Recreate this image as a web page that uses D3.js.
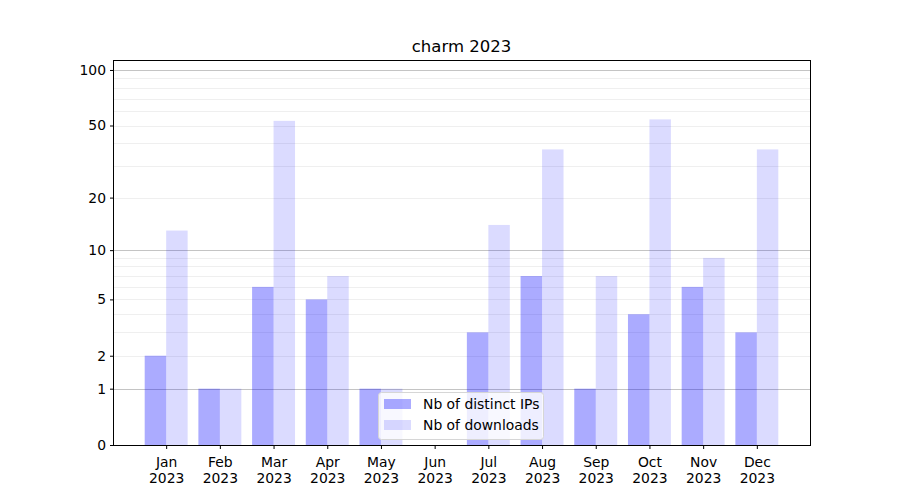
<!DOCTYPE html>
<html><head><meta charset="utf-8">
<script src="https://cdn.jsdelivr.net/npm/d3@7"></script>
<style>body{margin:0;background:#fff}svg{display:block}text{font-family:"DejaVu Sans",sans-serif}</style>
</head><body><svg id="c" width="900" height="500"></svg>
<script>
const months = ["Jan","Feb","Mar","Apr","May","Jun","Jul","Aug","Sep","Oct","Nov","Dec"];
const yearLabel = "2023";
const distinctIPs = [2,1,6,5,1,0,3,7,1,4,6,3];
const downloads = [13,1,53,7,1,0,14,37,7,54,9,37];
const yTicks = [0,1,2,5,10,20,50,100];
const minorGrid = [2,3,4,5,6,7,8,9,20,30,40,50,60,70,80,90];
const majorGrid = [1,10,100];
const seriesNames = ["Nb of distinct IPs","Nb of downloads"];

const svg = d3.select("#c");
const L=113, R=810, T=60, B=445;
const x = d3.scaleLinear().domain([-0.99, 11.99]).range([L, R]);
const y = d3.scaleSymlog().constant(1).domain([0, 113.2]).range([B, T]);
const bw = 0.4;

svg.append("text").attr("x",(L+R)/2).attr("y",52).attr("text-anchor","middle")
  .attr("font-size",16.5).text("charm " + yearLabel);

const g = svg.append("g");
g.selectAll(".mg").data(minorGrid).join("line")
  .attr("x1",L).attr("x2",R).attr("y1",d=>Math.round(y(d))+0.5).attr("y2",d=>Math.round(y(d))+0.5)
  .attr("stroke","#ebebeb").attr("stroke-width",0.8);
g.selectAll(".Mg").data(majorGrid).join("line")
  .attr("x1",L).attr("x2",R).attr("y1",d=>Math.round(y(d))+0.5).attr("y2",d=>Math.round(y(d))+0.5)
  .attr("stroke","#c4c4c4").attr("stroke-width",1);

g.selectAll(".b1").data(distinctIPs).join("rect")
  .attr("x",(d,i)=>x(i-bw)).attr("width",x(bw)-x(0))
  .attr("y",d=>y(d)).attr("height",d=>B-y(d))
  .attr("fill","#0000ff").attr("fill-opacity",0.33);
g.selectAll(".b2").data(downloads).join("rect")
  .attr("x",(d,i)=>x(i)).attr("width",x(bw)-x(0))
  .attr("y",d=>y(d)).attr("height",d=>B-y(d))
  .attr("fill","#0000ff").attr("fill-opacity",0.14);

// axes
const yAxis = d3.axisLeft(y).tickValues(yTicks).tickFormat(d3.format("d")).tickSize(3.5).tickPadding(4);
const ya = svg.append("g").attr("transform",`translate(${L+0.5},0)`).call(yAxis);
ya.select(".domain").remove();
ya.selectAll("text").attr("font-size",13.9).attr("fill","#000").attr("font-family","DejaVu Sans");
ya.selectAll("line").attr("stroke","#000");

const xAxis = d3.axisBottom(x).tickValues(d3.range(months.length)).tickFormat(()=>"").tickSize(3.5);
const xa = svg.append("g").attr("transform",`translate(0,${B+0.5})`).call(xAxis);
xa.select(".domain").remove();
xa.selectAll("line").attr("stroke","#000");
xa.selectAll(".tick").each(function(d){
  const t = d3.select(this).append("text").attr("fill","#000").attr("font-size",13.9).attr("text-anchor","middle");
  t.append("tspan").attr("x",0).attr("y",21).text(months[d]);
  t.append("tspan").attr("x",0).attr("y",37).text(yearLabel);
});

svg.append("rect").attr("x",L+0.5).attr("y",T+0.5).attr("width",R-L).attr("height",B-T)
  .attr("fill","none").attr("stroke","#000").attr("stroke-width",1);

// legend
const lg = svg.append("g");
lg.append("rect").attr("x",378.5).attr("y",392.5).attr("width",165).attr("height",47).attr("rx",3)
  .attr("fill","#fff").attr("fill-opacity",0.8).attr("stroke","#d6d6d6");
const ops=[0.33,0.14];
seriesNames.forEach((n,i)=>{
  lg.append("rect").attr("x",384).attr("y",399+i*21).attr("width",27).attr("height",10)
    .attr("fill","#0000ff").attr("fill-opacity",ops[i]);
  lg.append("text").attr("x",423).attr("y",409+i*21).attr("font-size",13.9).text(n);
});
</script></body></html>
